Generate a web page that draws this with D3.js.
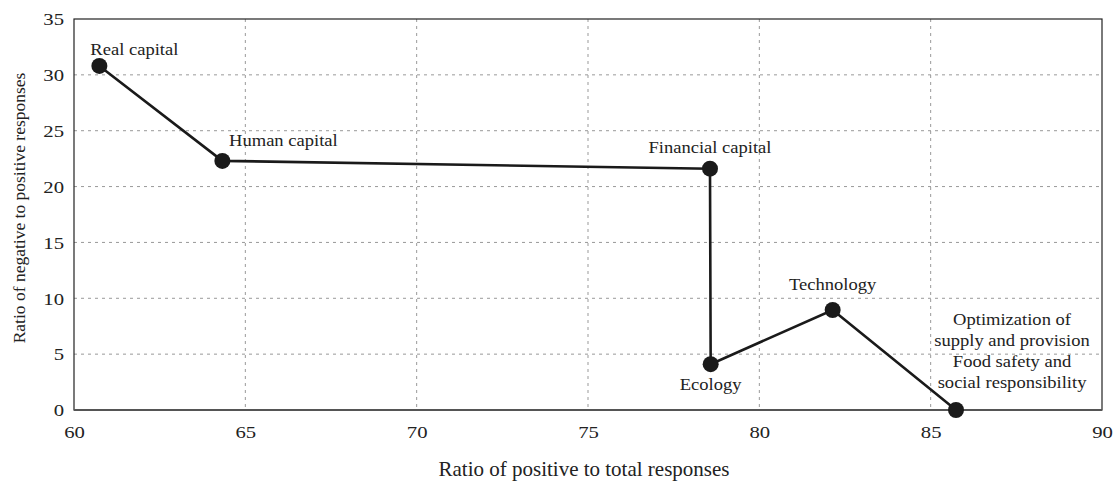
<!DOCTYPE html>
<html><head><meta charset="utf-8">
<script src="https://cdn.jsdelivr.net/npm/d3@7"></script>
<style>
html,body{margin:0;padding:0;background:#fff;}
text{font-family:"Liberation Serif","Times New Roman",serif;fill:#222;}
</style></head>
<body><svg id="c" width="1114" height="481"></svg>
<script>
const categories = ["Real capital","Human capital","Financial capital","Ecology","Technology","Optimization of supply and provision Food safety and social responsibility"];
const positiveRatio = [60.74, 64.33, 78.56, 78.58, 82.14, 85.74];
const negativeRatio = [30.8, 22.3, 21.6, 4.1, 8.95, 0];
const xTicks = [60,65,70,75,80,85,90];
const yTicks = [0,5,10,15,20,25,30,35];
const xTitle = "Ratio of positive to total responses";
const yTitle = "Ratio of negative to positive responses";
const labelLines = [["Real capital"],["Human capital"],["Financial capital"],["Ecology"],["Technology"],["Optimization of","supply and provision","Food safety and","social responsibility"]];

const svg = d3.select("#c");
const L=74,R=1102,T=19,B=410;
const x = d3.scaleLinear().domain([60,90]).range([L,R]);
const y = d3.scaleLinear().domain([0,35]).range([B,T]);

// grid
svg.append("g").selectAll("line").data(xTicks.slice(1,-1)).join("line")
  .attr("x1",d=>x(d)).attr("x2",d=>x(d)).attr("y1",T).attr("y2",B)
  .attr("stroke","#999").attr("stroke-width",1).attr("stroke-dasharray","3,4");
svg.append("g").selectAll("line").data(yTicks.slice(1,-1)).join("line")
  .attr("y1",d=>y(d)).attr("y2",d=>y(d)).attr("x1",L).attr("x2",R)
  .attr("stroke","#999").attr("stroke-width",1).attr("stroke-dasharray","3,4");

// frame
svg.append("rect").attr("x",L).attr("y",T).attr("width",R-L).attr("height",B-T)
  .attr("fill","none").attr("stroke","#222").attr("stroke-width",1.2);
svg.append("line").attr("x1",L).attr("x2",R).attr("y1",B).attr("y2",B).attr("stroke","#555").attr("stroke-width",2);

// axes (labels only), text stretched horizontally like the reference
const xAxis = svg.append("g").attr("transform",`translate(0,${B})`)
  .call(d3.axisBottom(x).tickValues(xTicks).tickSize(0).tickPadding(0).tickFormat(d3.format("d")));
xAxis.select(".domain").remove();
xAxis.selectAll("text").attr("font-size",17).attr("dy",null).attr("y",0)
  .attr("transform","translate(0,28) scale(1.22,1)")
  .style("font-family","Liberation Serif").attr("fill","#222");
const yAxis = svg.append("g").attr("transform",`translate(${L},0)`)
  .call(d3.axisLeft(y).tickValues(yTicks).tickSize(0).tickPadding(0).tickFormat(d3.format("d")));
yAxis.select(".domain").remove();
yAxis.selectAll("text").attr("font-size",17).attr("x",0).attr("dy","0.34em")
  .attr("transform","translate(-10,0) scale(1.22,1)")
  .style("font-family","Liberation Serif").attr("fill","#222");

// titles
svg.append("text").attr("x",584).attr("y",476).attr("text-anchor","middle").attr("font-size",21).text(xTitle);
svg.append("text").attr("transform","translate(25,208) rotate(-90)").attr("text-anchor","middle").attr("font-size",17.5).text(yTitle);

// line + points
const pts = categories.map((c,i)=>({c,x:positiveRatio[i],y:negativeRatio[i],lines:labelLines[i]}));
svg.append("path").datum(pts)
  .attr("d",d3.line().x(d=>x(d.x)).y(d=>y(d.y)))
  .attr("fill","none").attr("stroke","#1a1a1a").attr("stroke-width",2.6);
svg.append("g").selectAll("circle").data(pts).join("circle")
  .attr("cx",d=>x(d.x)).attr("cy",d=>y(d.y)).attr("r",8).attr("fill","#1a1a1a");

// label placement (offsets from point)
const place = [
  {dx:35,dy:-11},{dx:61,dy:-15},{dx:0,dy:-16},{dx:0,dy:26},{dx:0,dy:-20},{dx:56,dy:-85}
];
pts.forEach((p,i)=>{
  p.lines.forEach((ln,j)=>{
    svg.append("text").attr("text-anchor","middle").attr("font-size",17.5)
      .attr("transform",`translate(${x(p.x)+place[i].dx},${y(p.y)+place[i].dy+j*21}) scale(1.06,1)`)
      .text(ln);
  });
});
</script></body></html>
